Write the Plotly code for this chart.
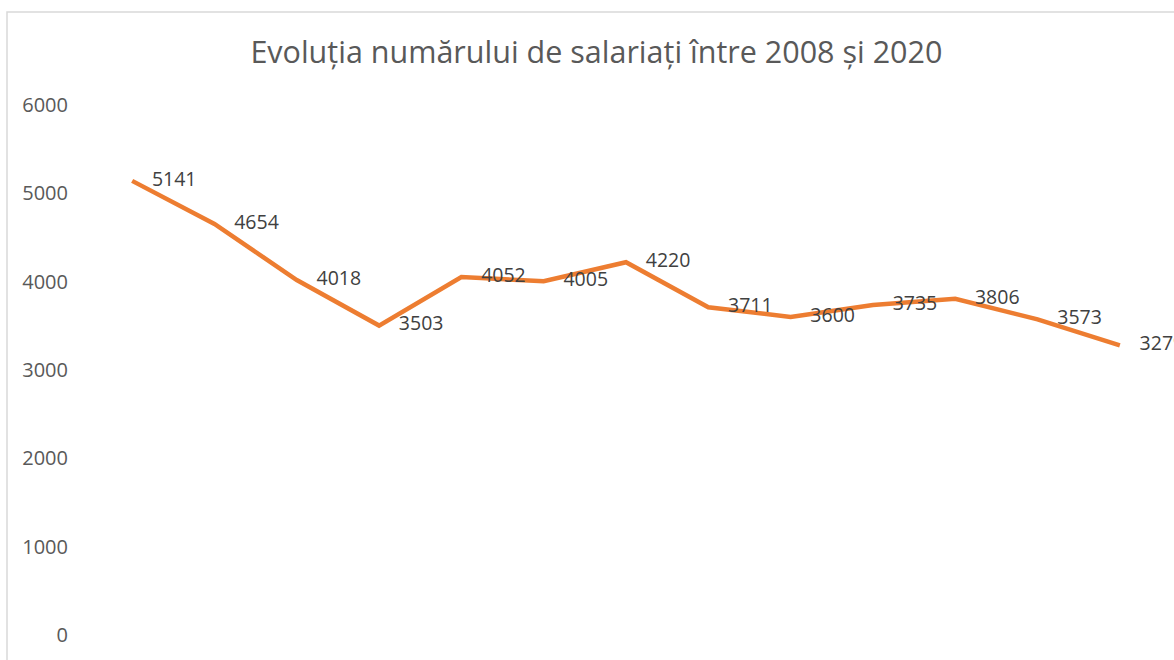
import plotly.graph_objects as go

years = [str(y) for y in range(2008, 2021)]
values = [5141, 4654, 4018, 3503, 4052, 4005, 4220, 3711, 3600, 3735, 3806, 3573, 3279]
y_ticks = [0, 1000, 2000, 3000, 4000, 5000, 6000]
title = "Evoluția numărului de salariați între 2008 și 2020"

FONT = "Open Sans"
GREY = "#595959"

fig = go.Figure()
fig.add_trace(go.Scatter(
    x=years, y=values, mode="lines",
    line=dict(color="#ED7D31", width=4.5),
    hoverinfo="x+y", showlegend=False,
))
# data labels (right of each point)
fig.add_trace(go.Scatter(
    x=years, y=values, mode="markers+text",
    text=[str(v) for v in values], textposition="middle right",
    marker=dict(size=30, color="rgba(0,0,0,0)"),
    textfont=dict(family=FONT, size=19.5, color="#404040"),
    hoverinfo="skip", showlegend=False, cliponaxis=False,
))

fig.update_layout(
    width=1174, height=660,
    paper_bgcolor="white", plot_bgcolor="white",
    margin=dict(l=91, r=13, t=105, b=20),
    title=dict(text=title, x=0.508, xanchor="center", y=0.921, yanchor="middle",
               font=dict(family=FONT, size=30.5, color=GREY)),
    xaxis=dict(type="category", range=[-0.5, 12.5], showticklabels=False,
               showgrid=False, zeroline=False, showline=False, ticks=""),
    yaxis=dict(range=[0, 6000], tickvals=y_ticks, showgrid=False, zeroline=False,
               showline=False, ticks="", ticklabelstandoff=22,
               tickfont=dict(family=FONT, size=20, color=GREY)),
    shapes=[dict(type="rect", xref="paper", yref="paper",
                 x0=-84/1070, x1=1.2, y0=-0.2, y1=1 + 94/535,
                 line=dict(color="#D9D9D9", width=1.5), layer="below")],
)

fig.write_html("out.html")
